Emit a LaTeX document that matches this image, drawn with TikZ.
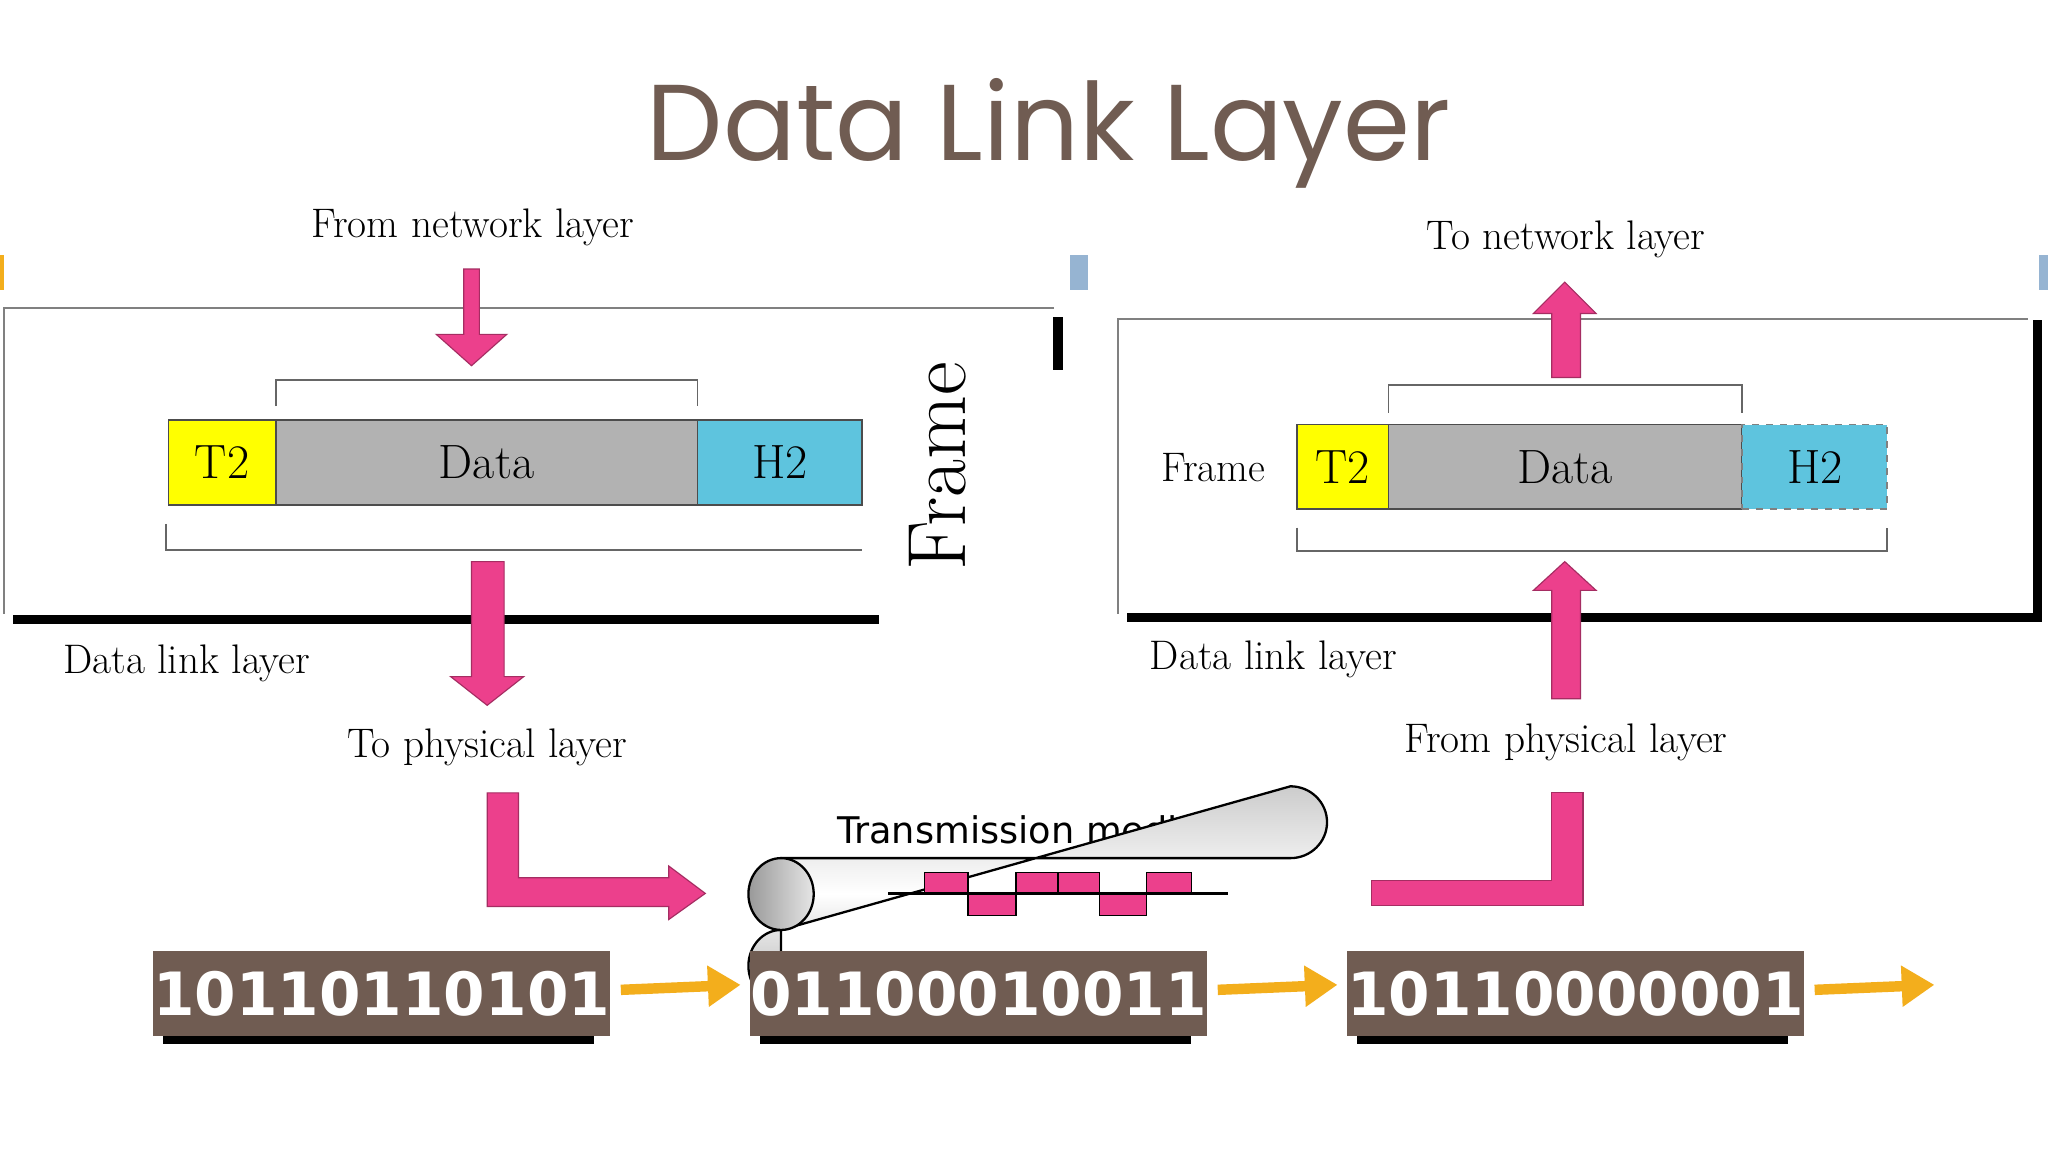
\documentclass[tikz,border=0pt]{standalone}
\usepackage{fontspec}
\usetikzlibrary{arrows.meta}
\newfontfamily\titlef{Poppins}
\newfontfamily\sansf{DejaVu Sans}
\definecolor{brn}{RGB}{112,92,82}
\definecolor{pnk}{RGB}{236,64,140}
\definecolor{ylw}{RGB}{255,255,0}
\definecolor{cyn}{RGB}{94,196,222}
\definecolor{gry}{RGB}{178,178,178}
\definecolor{org}{RGB}{243,174,28}
\definecolor{blu}{RGB}{150,180,210}
\begin{document}
\begin{tikzpicture}[x=0.02cm,y=-0.02cm,
 lbl/.style={font=\fontsize{18}{20}\selectfont,inner sep=0},
 cell/.style={draw=black!70,line width=0.8pt,minimum height=1.3cm,font=\fontsize{21}{22}\selectfont,inner sep=0},
 parr/.style={draw=pnk!70!black,fill=pnk,line width=0.5pt},
 bin/.style={fill=brn,text=white,minimum width=6.6cm,minimum height=1.3cm,inner sep=0,font=\sansf\bfseries\fontsize{26}{28}\selectfont},
 oarr/.style={org,line width=1.6mm,-{Triangle[width=6mm,length=5mm]}},
 brk/.style={draw=black!60,line width=0.8pt}]
\useasboundingbox (0,0) rectangle (1568,882);
\fill[white] (0,0) rectangle (1568,882);
\node[font=\titlef\fontsize{47}{50}\selectfont,text=brn] (title) at (803,102) {Data Link Layer};
\fill[org] (0,195) rectangle (3,222);
\fill[blu] (819,195) rectangle (833,222);
\fill[blu] (1561,195) rectangle (1568,222);
% left box
\draw[black!50,line width=0.8pt] (807,236) -- (3,236) -- (3,470);
\draw[black,line width=4pt] (10,474) -- (673,474);
\draw[black,line width=4pt] (810,243) -- (810,283);
\node[lbl] (fnl) at (362,174) {From network layer};
\draw[parr] (355,206) -- (367,206) -- (367,256) -- (388,256) -- (361,280) -- (334,256) -- (355,256) -- cycle;
\draw[brk] (211,311) -- (211,291) -- (534,291) -- (534,311);
\node[cell,fill=ylw,minimum width=1.64cm] (t2a) at (170,354) {T2};
\node[cell,fill=gry,minimum width=6.46cm] (da) at (372.5,354) {Data};
\node[cell,fill=cyn,minimum width=2.52cm] (h2a) at (597,354) {H2};
\draw[brk] (127,401) -- (127,421) -- (660,421);
\draw[parr] (361,430) -- (386,430) -- (386,518) -- (401,518) -- (373,540) -- (345,518) -- (361,518) -- cycle;
\node[font=\fontsize{36}{38}\selectfont,rotate=90] (fr1) at (718,357) {Frame};
\node[lbl] (dll1) at (143,508) {Data link layer};
\node[lbl] (tpl) at (373,572) {To physical layer};
% right box
\draw[black!50,line width=0.8pt] (856,470) -- (856,244) -- (1553,244);
\draw[black,line width=4pt] (863,473) -- (1560,473) -- (1560,245);
\node[lbl] (tnl) at (1199,183) {To network layer};
\draw[parr] (1188,289) -- (1210,289) -- (1210,240) -- (1222,240) -- (1198,216) -- (1174,240) -- (1188,240) -- cycle;
\draw[brk] (1063,316) -- (1063,295) -- (1334,295) -- (1334,316);
\node[lbl] (fr2) at (929,358) {Frame};
\node[cell,fill=ylw,minimum width=1.4cm] (t2b) at (1028,357.5) {T2};
\node[cell,fill=gry,minimum width=5.42cm] (db) at (1198.5,357.5) {Data};
\node[cell,fill=cyn,draw=black!50,dashed,minimum width=2.22cm] (h2b) at (1389.5,357.5) {H2};
\draw[brk] (993,404) -- (993,422) -- (1445,422) -- (1445,404);
\draw[parr] (1188,535) -- (1210,535) -- (1210,452) -- (1222,452) -- (1198,430) -- (1174,452) -- (1188,452) -- cycle;
\node[lbl] (dll2) at (975,505) {Data link layer};
\node[lbl] (fpl) at (1199,568) {From physical layer};
% L arrows
\draw[parr] (373,607) -- (397,607) -- (397,672) -- (512,672) -- (512,663) -- (540,684) -- (512,704) -- (512,694) -- (373,694) -- cycle;
\draw[parr] (1188,607) -- (1212,607) -- (1212,693) -- (1050,693) -- (1050,674) -- (1188,674) -- cycle;
% cylinder
\node[font=\sansf\fontsize{16}{18}\selectfont] (tm) at (794,635) {Transmission medium};
\shade[top color=gray!40,bottom color=gray!60,middle color=white,draw=black,line width=1pt]
 (598,657) -- (988,657) arc (90:-90:28 and 27.5) -- (598,712) arc (270:90:25 and 27.5) -- cycle;
\shade[left color=gray!80,right color=gray!20,draw=black,line width=1pt] (598,684.5) ellipse (25 and 27.5);
\fill[pnk,draw=black,line width=0.6pt] (708,668) rectangle (741,684);
\fill[pnk,draw=black,line width=0.6pt] (741,684) rectangle (778,701);
\fill[pnk,draw=black,line width=0.6pt] (778,668) rectangle (810,684);
\fill[pnk,draw=black,line width=0.6pt] (810,668) rectangle (842,684);
\fill[pnk,draw=black,line width=0.6pt] (842,684) rectangle (878,701);
\fill[pnk,draw=black,line width=0.6pt] (878,668) rectangle (912,684);
\draw[black,line width=1pt] (680,684) -- (940,684);
% binary
\foreach \x/\t/\n in {117/10110110101/b1,574/01100010011/b2,1031/10110000001/b3}{
 \fill[black] (\x+8,734) rectangle (\x+338,799);
 \node[bin,anchor=north west] (\n) at (\x,728) {\t};
}
\draw[oarr] (b1.east) ++(8,-3) -- (567,754);
\draw[oarr] (b2.east) ++(8,-3) -- (1024,754);
\draw[oarr] (b3.east) ++(8,-3) -- (1481,754);
\end{tikzpicture}
\end{document}
